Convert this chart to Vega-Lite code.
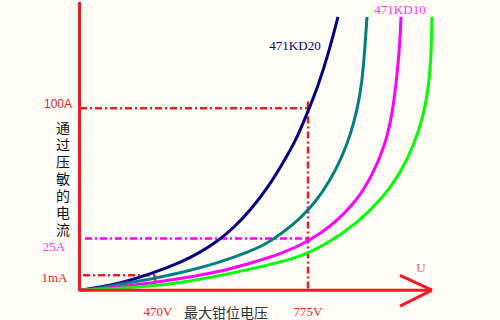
{
  "$schema": "https://vega.github.io/schema/vega-lite/v6.json",
  "width": 500,
  "height": 320,
  "padding": 0,
  "autosize": {"type": "fit", "contains": "padding"},
  "background": "#fffcf6",
  "config": {"view": {"stroke": null}},
  "datasets": {
    "curves": [
      {"s": "471KD20", "u": 0, "i": 0}, {"s": "471KD20", "u": 20, "i": 3}, {"s": "471KD20", "u": 40, "i": 7},
      {"s": "471KD20", "u": 70, "i": 16}, {"s": "471KD20", "u": 103, "i": 29}, {"s": "471KD20", "u": 120, "i": 38},
      {"s": "471KD20", "u": 137, "i": 49}, {"s": "471KD20", "u": 153, "i": 62}, {"s": "471KD20", "u": 170, "i": 80},
      {"s": "471KD20", "u": 187, "i": 102}, {"s": "471KD20", "u": 203, "i": 128}, {"s": "471KD20", "u": 217, "i": 153},
      {"s": "471KD20", "u": 228, "i": 180}, {"s": "471KD20", "u": 238, "i": 205}, {"s": "471KD20", "u": 249, "i": 240},
      {"s": "471KD20", "u": 258, "i": 275},
      {"s": "471KD14", "u": 0, "i": 0}, {"s": "471KD14", "u": 20, "i": 2}, {"s": "471KD14", "u": 40, "i": 6},
      {"s": "471KD14", "u": 70, "i": 11}, {"s": "471KD14", "u": 103, "i": 18}, {"s": "471KD14", "u": 137, "i": 27},
      {"s": "471KD14", "u": 170, "i": 39}, {"s": "471KD14", "u": 187, "i": 47}, {"s": "471KD14", "u": 203, "i": 58},
      {"s": "471KD14", "u": 220, "i": 72}, {"s": "471KD14", "u": 235, "i": 88}, {"s": "471KD14", "u": 250, "i": 110},
      {"s": "471KD14", "u": 262, "i": 134}, {"s": "471KD14", "u": 271, "i": 158}, {"s": "471KD14", "u": 277, "i": 181},
      {"s": "471KD14", "u": 282, "i": 208}, {"s": "471KD14", "u": 285, "i": 245}, {"s": "471KD14", "u": 287, "i": 275},
      {"s": "471KD10", "u": 0, "i": 0}, {"s": "471KD10", "u": 30, "i": 2}, {"s": "471KD10", "u": 70, "i": 7},
      {"s": "471KD10", "u": 103, "i": 12}, {"s": "471KD10", "u": 137, "i": 18}, {"s": "471KD10", "u": 170, "i": 27},
      {"s": "471KD10", "u": 203, "i": 37}, {"s": "471KD10", "u": 230, "i": 50}, {"s": "471KD10", "u": 253, "i": 66},
      {"s": "471KD10", "u": 277, "i": 90}, {"s": "471KD10", "u": 293, "i": 117}, {"s": "471KD10", "u": 305, "i": 146},
      {"s": "471KD10", "u": 312, "i": 175}, {"s": "471KD10", "u": 317, "i": 215}, {"s": "471KD10", "u": 320, "i": 250},
      {"s": "471KD10", "u": 321, "i": 275},
      {"s": "471KD07", "u": 0, "i": 0}, {"s": "471KD07", "u": 30, "i": 1}, {"s": "471KD07", "u": 70, "i": 4},
      {"s": "471KD07", "u": 103, "i": 8}, {"s": "471KD07", "u": 137, "i": 14}, {"s": "471KD07", "u": 170, "i": 21},
      {"s": "471KD07", "u": 203, "i": 29}, {"s": "471KD07", "u": 220, "i": 34}, {"s": "471KD07", "u": 243, "i": 44},
      {"s": "471KD07", "u": 277, "i": 67}, {"s": "471KD07", "u": 303, "i": 93}, {"s": "471KD07", "u": 320, "i": 117},
      {"s": "471KD07", "u": 334, "i": 146}, {"s": "471KD07", "u": 343, "i": 174}, {"s": "471KD07", "u": 348, "i": 200},
      {"s": "471KD07", "u": 351, "i": 230}, {"s": "471KD07", "u": 352, "i": 275}
    ]
  },
  "encoding": {
    "x": {"type": "quantitative", "scale": {"domain": [-80, 420], "nice": false, "zero": false}, "axis": null},
    "y": {"type": "quantitative", "scale": {"domain": [-30, 290], "nice": false, "zero": false}, "axis": null}
  },
  "layer": [
    {
      "data": {"values": [{"u": -29, "u2": -6, "i": 58, "i2": 173}, {"u": 102, "u2": 193, "i": -30, "i2": -18}]},
      "mark": {"type": "rect", "color": "#ffffff"},
      "encoding": {"x": {"field": "u"}, "x2": {"field": "u2"}, "y": {"field": "i"}, "y2": {"field": "i2"}}
    },
    {
      "data": {"values": [
        {"u": 0, "i": 183, "u2": 228, "i2": 183},
        {"u": 228, "i": 190, "u2": 228, "i2": 0},
        {"u": 3, "i": 15, "u2": 75, "i2": 15},
        {"u": 75, "i": 15, "u2": 75, "i2": 0}
      ]},
      "mark": {"type": "rule", "color": "#ed1c24", "strokeWidth": 2.5, "strokeDash": [7, 3, 2, 3]},
      "encoding": {"x": {"field": "u"}, "y": {"field": "i"}, "x2": {"field": "u2"}, "y2": {"field": "i2"}}
    },
    {
      "data": {"values": [{"u": 5, "i": 52, "u2": 228, "i2": 52}]},
      "mark": {"type": "rule", "color": "#ff00ff", "strokeWidth": 2.5, "strokeDash": [7, 3, 2, 3]},
      "encoding": {"x": {"field": "u"}, "y": {"field": "i"}, "x2": {"field": "u2"}, "y2": {"field": "i2"}}
    },
    {
      "data": {"name": "curves"},
      "mark": {"type": "line", "strokeWidth": 3, "interpolate": "basis"},
      "encoding": {
        "x": {"field": "u"},
        "y": {"field": "i"},
        "order": {"field": "i", "type": "quantitative"},
        "color": {"field": "s", "type": "nominal", "legend": null,
          "scale": {"domain": ["471KD20", "471KD14", "471KD10", "471KD07"], "range": ["#000080", "#008080", "#ff00ff", "#00ff00"]}}
      }
    },
    {
      "data": {"values": [
        {"u": -0.5, "i": 0, "u2": -0.5, "i2": 290},
        {"u": -1.5, "i": 0, "u2": 352, "i2": 0},
        {"u": 320, "i": 15, "u2": 352, "i2": 0},
        {"u": 320, "i": -16, "u2": 352, "i2": 0}
      ]},
      "mark": {"type": "rule", "color": "#ed1c24", "strokeWidth": 3},
      "encoding": {"x": {"field": "u"}, "y": {"field": "i"}, "x2": {"field": "u2"}, "y2": {"field": "i2"}}
    },
    {
      "data": {"values": [{"t": "100A", "u": -8, "i": 187}]},
      "mark": {"type": "text", "font": "Liberation Sans", "fontSize": 12, "color": "#ed1c24", "align": "right", "baseline": "middle"},
      "encoding": {"x": {"field": "u"}, "y": {"field": "i"}, "text": {"field": "t"}}
    },
    {
      "data": {"values": [{"t": "1mA", "u": -25.5, "i": 12}, {"t": "470V", "u": 78, "i": -22}, {"t": "775V", "u": 228, "i": -22}]},
      "mark": {"type": "text", "font": "Liberation Serif", "fontSize": 13, "color": "#ed1c24", "align": "center", "baseline": "middle", "clip": true},
      "encoding": {"x": {"field": "u"}, "y": {"field": "i"}, "text": {"field": "t"}}
    },
    {
      "data": {"values": [{"t": "25A", "u": -26, "i": 43}, {"t": "471KD10", "u": 320, "i": 282}]},
      "mark": {"type": "text", "font": "Liberation Serif", "fontSize": 13, "color": "#ff33ff", "align": "center", "baseline": "middle"},
      "encoding": {"x": {"field": "u"}, "y": {"field": "i"}, "text": {"field": "t"}}
    },
    {
      "data": {"values": [{"t": "471KD20", "u": 215, "i": 245.5}]},
      "mark": {"type": "text", "font": "Liberation Serif", "fontSize": 13, "color": "#000080", "align": "center", "baseline": "middle"},
      "encoding": {"x": {"field": "u"}, "y": {"field": "i"}, "text": {"field": "t"}}
    },
    {
      "data": {"values": [{"t": "U", "u": 341, "i": 22}]},
      "mark": {"type": "text", "font": "Liberation Serif", "fontSize": 13, "color": "#f05a6a", "align": "center", "baseline": "middle"},
      "encoding": {"x": {"field": "u"}, "y": {"field": "i"}, "text": {"field": "t"}}
    },
    {
      "data": {"values": [{"t": "最大钳位电压", "u": 146, "i": -24}]},
      "mark": {"type": "text", "font": "Noto Sans CJK SC", "fontSize": 14, "color": "#333333", "align": "center", "baseline": "middle", "clip": true},
      "encoding": {"x": {"field": "u"}, "y": {"field": "i"}, "text": {"field": "t"}}
    },
    {
      "data": {"values": [{"t": "通\n过\n压\n敏\n的\n电\n流", "u": -17, "i": 169}]},
      "mark": {"type": "text", "font": "Noto Sans CJK SC", "fontSize": 14, "lineHeight": 17, "lineBreak": "\n", "color": "#111111", "align": "center", "baseline": "top"},
      "encoding": {"x": {"field": "u"}, "y": {"field": "i"}, "text": {"field": "t"}}
    }
  ]
}
